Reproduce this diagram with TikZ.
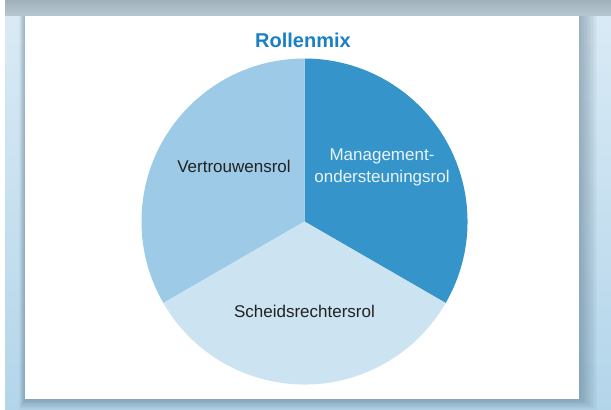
\documentclass[tikz,border=0pt]{standalone}
\usepackage{fontspec}
\setmainfont{Liberation Sans}
\definecolor{bgtop}{HTML}{D9EAF5}
\definecolor{bgbot}{HTML}{B3D5EA}
\definecolor{bandtop}{HTML}{9FB1BB}
\definecolor{bandbot}{HTML}{B7C8D1}
\definecolor{shadowc}{HTML}{3E5A6A}
\definecolor{titleblue}{HTML}{1A80C4}
\definecolor{sliceA}{HTML}{3595CA}
\definecolor{sliceB}{HTML}{9DCAE6}
\definecolor{sliceC}{HTML}{CCE3F1}
\definecolor{labeldark}{HTML}{222222}
\definecolor{labellight}{HTML}{EAF4FB}
\tikzset{
  titletext/.style={font=\fontsize{20}{24}\selectfont\bfseries, text=titleblue},
  slicelabel/.style={font=\fontsize{17}{22}\selectfont, text=labeldark, align=center, inner sep=0pt},
}
\begin{document}
\begin{tikzpicture}[x=1pt,y=1pt]
\useasboundingbox (0,0) rectangle (611,410);
% backdrop
\fill[white] (0,0) rectangle (611,410);
\shade[top color=bgtop, bottom color=bgbot] (5,0) rectangle (611,394);
\shade[top color=bandtop, bottom color=bandbot] (5,394) rectangle (611,410);
% soft shadow around the panel
\foreach \i in {1,...,12} {
  \fill[shadowc, opacity=0.035] (25-0.5*\i, 11-0.9*\i) rectangle (579+1.5*\i, 394);
}
% panel
\fill[white] (25,11) rectangle (579,394);
% title
\node[titletext] (title) at (303,370) {Rollenmix};
% pie chart
\coordinate (c) at (304.5,188.5);
\def\R{163}
\fill[sliceA] (c) -- ++(-30:\R) arc[start angle=-30, end angle=90, radius=\R] -- cycle;
\fill[sliceB] (c) -- ++(90:\R) arc[start angle=90, end angle=210, radius=\R] -- cycle;
\fill[sliceC] (c) -- ++(210:\R) arc[start angle=210, end angle=330, radius=\R] -- cycle;
% slice labels
\node[slicelabel, text=labellight] (mgmt) at (382,243) {Management-\\ondersteuningsrol};
\node[slicelabel] (vertr) at (234,244) {Vertrouwensrol};
\node[slicelabel] (scheids) at (304.5,99) {Scheidsrechtersrol};
\end{tikzpicture}
\end{document}
